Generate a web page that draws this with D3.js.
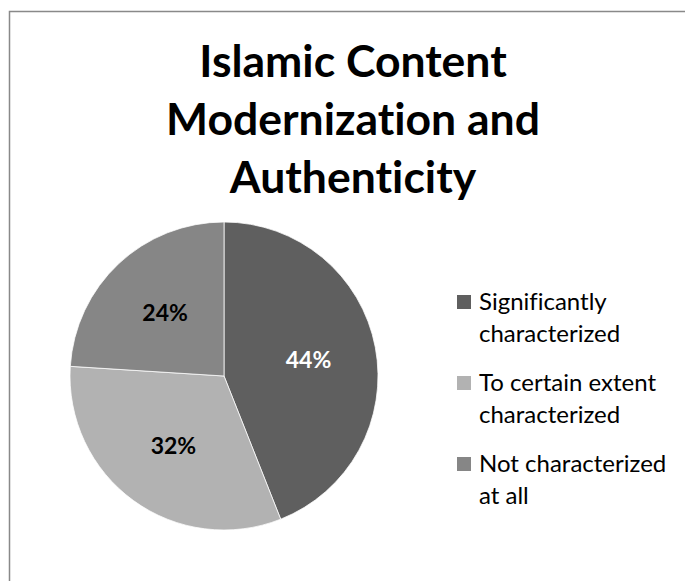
<!DOCTYPE html>
<html>
<head>
<meta charset="utf-8">
<script src="https://cdn.jsdelivr.net/npm/d3@7"></script>
<style>
  html, body { margin: 0; padding: 0; background: #fff; }
  svg { display: block; }
  text { font-family: Lato, "Open Sans", sans-serif; font-variant-ligatures: none; }
</style>
</head>
<body>
<svg id="chart" width="685" height="581"></svg>
<script>
// Chart data
const titleLines = ["Islamic Content", "Modernization and", "Authenticity"];
const categories = ["Significantly characterized", "To certain extent characterized", "Not characterized at all"];
const legendLines = [["Significantly", "characterized"], ["To certain extent", "characterized"], ["Not characterized", "at all"]];
const values = [44, 32, 24];
const colors = ["#5f5f5f", "#b2b2b2", "#868686"];
const labelColors = ["#ffffff", "#000000", "#000000"];

const svg = d3.select("#chart");

// Chart area frame (extends past the right and bottom edges)
svg.append("rect")
  .attr("x", 9.5).attr("y", 11.5)
  .attr("width", 720).attr("height", 620)
  .attr("fill", "#fff")
  .attr("stroke", "#898989")
  .attr("stroke-width", 1.5);

// Title
svg.append("g").selectAll("text")
  .data(titleLines)
  .join("text")
  .attr("x", 353)
  .attr("y", (d, i) => 77 + i * 58)
  .attr("text-anchor", "middle")
  .attr("font-size", 44.5)
  .attr("font-weight", "bold")
  .attr("fill", "#000")
  .text(d => d);

// Pie
const cx = 224, cy = 376, R = 154;
const pie = d3.pie().sort(null).value(d => d);
const arcs = pie(values);
const arc = d3.arc().innerRadius(0).outerRadius(R);
const labelArc = d3.arc().innerRadius(86).outerRadius(86);
const color = d3.scaleOrdinal().domain(d3.range(values.length)).range(colors);

const g = svg.append("g").attr("transform", `translate(${cx},${cy})`);
g.selectAll("path")
  .data(arcs)
  .join("path")
  .attr("d", arc)
  .attr("fill", (d, i) => color(i))
  .attr("stroke", "#ffffff")
  .attr("stroke-width", 0.75);

g.selectAll("text")
  .data(arcs)
  .join("text")
  .attr("transform", d => `translate(${labelArc.centroid(d)})`)
  .attr("text-anchor", "middle")
  .attr("dy", "0.35em")
  .attr("font-size", 23)
  .attr("font-weight", "bold")
  .attr("fill", (d, i) => labelColors[i])
  .text(d => d.data + "%");

// Legend
const legend = svg.append("g");
const items = legend.selectAll("g")
  .data(categories)
  .join("g")
  .attr("transform", (d, i) => `translate(457, ${295 + i * 81})`);

items.append("rect")
  .attr("width", 14).attr("height", 14)
  .attr("fill", (d, i) => color(i));

items.each(function (d, i) {
  d3.select(this).selectAll("text")
    .data(legendLines[i])
    .join("text")
    .attr("x", 22)
    .attr("y", (t, j) => 15 + j * 32)
    .attr("font-size", 24)
    .attr("fill", "#000")
    .text(t => t);
});
</script>
</body>
</html>
